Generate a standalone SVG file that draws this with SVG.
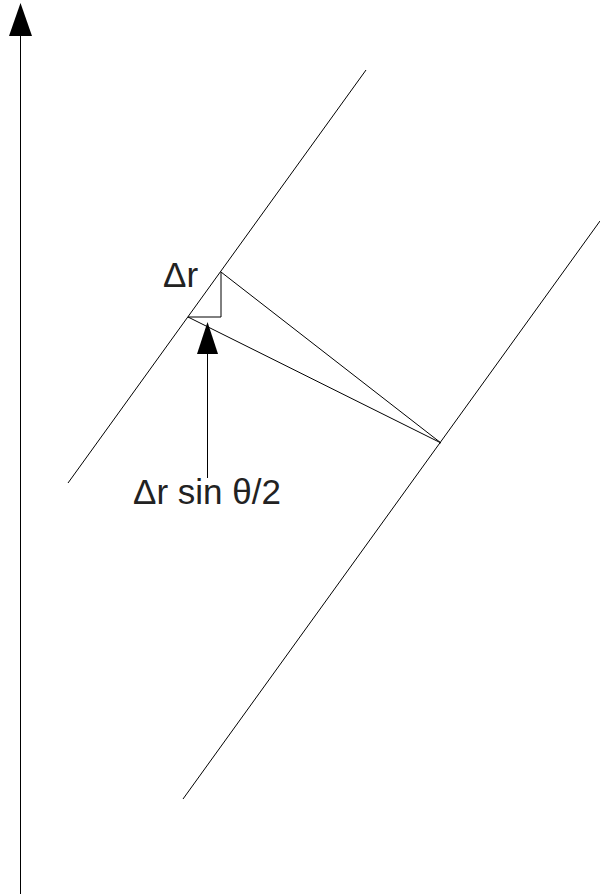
<svg xmlns="http://www.w3.org/2000/svg" width="600" height="894" viewBox="0 0 600 894">
<style>
.ln{stroke:#000;stroke-width:1;fill:none}
.ah{fill:#000;stroke:none}
.lbl{font-family:"Liberation Sans",Arial,sans-serif;font-size:35px;fill:#222}
</style>
<rect width="600" height="894" fill="#fff"/>
<g id="axis">
<line class="ln" x1="20.5" y1="34" x2="20.5" y2="894" stroke-width="1.5"/>
<polygon class="ah" points="20.5,3 9,36 32,36"/>
</g>
<g id="plane1"><line class="ln" x1="366" y1="70" x2="68" y2="483"/></g>
<g id="plane2"><line class="ln" x1="600" y1="221" x2="183" y2="799"/></g>
<g id="connectors">
<line class="ln" x1="221" y1="272" x2="441" y2="443"/>
<line class="ln" x1="188" y1="317" x2="441" y2="443"/>
<polyline class="ln" points="221,272 221,317 188,317"/>
<line class="ln" x1="207.5" y1="350" x2="207.5" y2="478"/>
<polygon class="ah" points="207.5,322 197,354 218,354"/>
</g>
<g id="labels">
<text class="lbl" x="163" y="287">Δr</text>
<text class="lbl" x="133" y="504">Δr sin θ/2</text>
</g>
</svg>
